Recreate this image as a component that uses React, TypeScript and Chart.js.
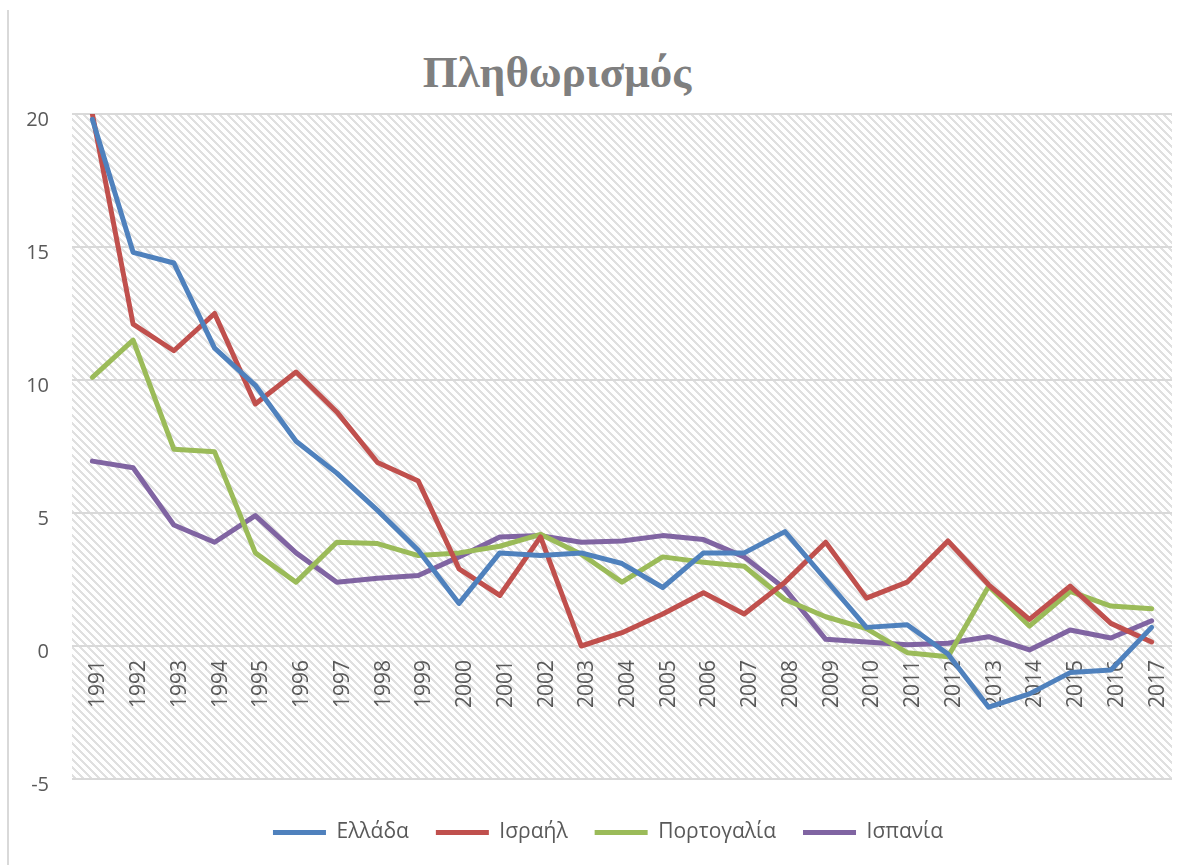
import React, { useEffect, useRef } from "react";
import { Chart, registerables } from "chart.js";

Chart.register(...registerables);

const years = [
  "1991", "1992", "1993", "1994", "1995", "1996", "1997", "1998", "1999", "2000",
  "2001", "2002", "2003", "2004", "2005", "2006", "2007", "2008", "2009", "2010",
  "2011", "2012", "2013", "2014", "2015", "2016", "2017",
];

const greece = [19.8, 14.8, 14.4, 11.2, 9.8, 7.7, 6.5, 5.1, 3.6, 1.6, 3.5, 3.4, 3.5, 3.1, 2.2, 3.5, 3.5, 4.3, 2.5, 0.7, 0.8, -0.3, -2.3, -1.8, -1.0, -0.9, 0.7];
const israel = [20.0, 12.1, 11.1, 12.5, 9.1, 10.3, 8.8, 6.9, 6.2, 2.9, 1.9, 4.1, 0.0, 0.5, 1.2, 2.0, 1.2, 2.4, 3.9, 1.8, 2.4, 3.95, 2.3, 1.0, 2.25, 0.85, 0.15];
const portugal = [10.1, 11.5, 7.4, 7.3, 3.5, 2.4, 3.9, 3.85, 3.4, 3.5, 3.75, 4.2, 3.45, 2.4, 3.35, 3.15, 3.0, 1.75, 1.1, 0.65, -0.25, -0.4, 2.25, 0.75, 2.05, 1.5, 1.4];
const spain = [6.95, 6.7, 4.55, 3.9, 4.9, 3.5, 2.4, 2.55, 2.65, 3.35, 4.1, 4.15, 3.9, 3.95, 4.15, 4.0, 3.35, 2.15, 0.25, 0.15, 0.05, 0.1, 0.35, -0.15, 0.6, 0.3, 0.95];

const seriesNames = ["Ελλάδα", "Ισραήλ", "Πορτογαλία", "Ισπανία"];
const seriesColors = ["#4F81BD", "#C0504D", "#9BBB59", "#8064A2"];
const seriesData = [greece, israel, portugal, spain];

const yMin = -5;
const yMax = 20;
const yStep = 5;

const titleText = "Πληθωρισμός";

const TEXT_COLOR = "#595959";
const FONT = "'Open Sans', 'Noto Sans', sans-serif";
const LEGEND_SHIFT = 22;

const hatchPlugin = {
  id: "hatch",
  beforeDraw(chart: any) {
    const { ctx, chartArea: a } = chart;
    const pc = document.createElement("canvas");
    pc.width = 8;
    pc.height = 8;
    const p = pc.getContext("2d")!;
    p.fillStyle = "#ffffff";
    p.fillRect(0, 0, 8, 8);
    p.fillStyle = "#e0e0e0";
    for (let y = 0; y < 8; y++) {
      for (let k = 0; k < 3; k++) p.fillRect((y + k) % 8, y, 1, 1);
    }
    const pat = ctx.createPattern(pc, "repeat");
    ctx.save();
    ctx.fillStyle = pat;
    ctx.fillRect(a.left, a.top, a.right - a.left, a.bottom - a.top);
    ctx.restore();
  },
};

const legendShiftPlugin = {
  id: "legendShift",
  afterLayout(chart: any) {
    const lg = chart.legend;
    if (lg) {
      lg.left += LEGEND_SHIFT;
      lg.right += LEGEND_SHIFT;
    }
  },
};

export default function App() {
  const ref = useRef<HTMLCanvasElement>(null);

  useEffect(() => {
    if (!ref.current) return;
    const chart = new Chart(ref.current, {
      type: "line",
      data: {
        labels: years,
        datasets: seriesNames.map((name, i) => ({
          label: name,
          data: seriesData[i],
          borderColor: seriesColors[i],
          backgroundColor: seriesColors[i],
          borderWidth: 5,
          pointRadius: 0,
          pointHoverRadius: 0,
          tension: 0,
          borderJoinStyle: "round" as const,
          borderCapStyle: "round" as const,
          fill: false,
        })),
      },
      options: {
        responsive: false,
        animation: false,
        layout: { padding: { left: 0, right: 26, top: 114, bottom: 12 } },
        scales: {
          x: {
            type: "category",
            position: { y: 0 } as any,
            offset: true,
            grid: { display: false, drawTicks: false },
            border: { display: false },
            ticks: {
              minRotation: 90,
              maxRotation: 90,
              autoSkip: false,
              padding: 14,
              labelOffset: 6,
              color: TEXT_COLOR,
              font: { family: FONT, size: 21 },
            },
          },
          xSpacer: {
            type: "category",
            axis: "x",
            position: "bottom",
            display: true,
            grid: { display: false, drawTicks: false },
            border: { display: false },
            ticks: { display: false },
            afterFit: (s: any) => {
              s.height = 16;
            },
          } as any,
          y: {
            min: yMin,
            max: yMax,
            ticks: {
              stepSize: yStep,
              padding: 23,
              labelOffset: 6,
              color: TEXT_COLOR,
              font: { family: FONT, size: 20 },
            },
            grid: { color: "#d9d9d9", lineWidth: 2, drawTicks: false },
            border: { display: false },
            afterFit: (s: any) => {
              s.width = 72;
            },
          },
        },
        plugins: {
          title: { display: false },
          tooltip: { enabled: false },
          legend: {
            position: "bottom",
            labels: {
              boxWidth: 53,
              boxHeight: 5,
              padding: 27,
              color: TEXT_COLOR,
              font: { family: FONT, size: 21 },
              generateLabels: (c: any) =>
                (Chart.defaults as any).plugins.legend.labels
                  .generateLabels(c)
                  .map((l: any) => ({ ...l, lineWidth: 0 })),
            },
          },
        },
      },
      plugins: [hatchPlugin, legendShiftPlugin],
    });
    return () => chart.destroy();
  }, []);

  return (
    <div style={{ position: "absolute", left: 0, top: 0, width: 1198, height: 865 }}>
      <div
        style={{
          position: "absolute",
          left: 7,
          top: 10,
          width: 2,
          height: 855,
          background: "#d9d9d9",
        }}
      />
      <div
        style={{
          position: "absolute",
          left: 0,
          width: 1114,
          top: 50,
          textAlign: "center",
          fontFamily: "'Liberation Serif', 'DejaVu Serif', serif",
          fontWeight: "bold",
          fontSize: 45,
          lineHeight: "45px",
          color: "#7f7f7f",
        }}
      >
        {titleText}
      </div>
      <canvas ref={ref} width={1198} height={865} style={{ position: "absolute", left: 0, top: 0 }} />
    </div>
  );
}
